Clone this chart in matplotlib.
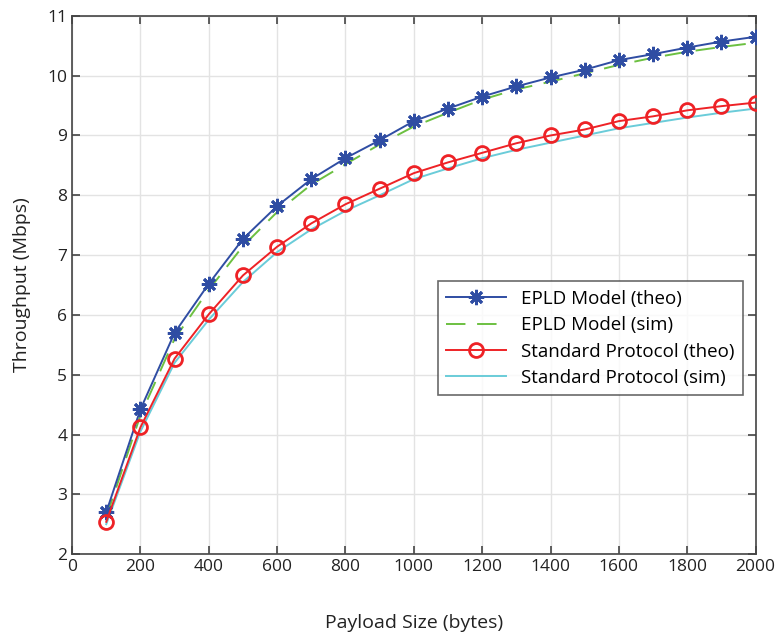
import matplotlib
matplotlib.use("Agg")
import matplotlib.pyplot as plt

payload = [100, 200, 300, 400, 500, 600, 700, 800, 900, 1000,
           1100, 1200, 1300, 1400, 1500, 1600, 1700, 1800, 1900, 2000]
epld_theo = [2.70, 4.42, 5.70, 6.52, 7.27, 7.82, 8.27, 8.62, 8.92, 9.24,
             9.45, 9.65, 9.82, 9.97, 10.10, 10.26, 10.36, 10.47, 10.57, 10.65]
epld_sim = [2.62, 4.32, 5.60, 6.42, 7.15, 7.72, 8.18, 8.52, 8.85, 9.15,
            9.38, 9.60, 9.77, 9.90, 10.04, 10.18, 10.30, 10.40, 10.48, 10.55]
std_theo = [2.54, 4.12, 5.27, 6.01, 6.66, 7.14, 7.53, 7.85, 8.11, 8.37,
            8.55, 8.71, 8.87, 9.00, 9.10, 9.24, 9.32, 9.42, 9.49, 9.55]
std_sim = [2.50, 4.05, 5.20, 5.92, 6.55, 7.05, 7.43, 7.74, 8.00, 8.27,
           8.45, 8.62, 8.76, 8.88, 9.00, 9.12, 9.21, 9.30, 9.38, 9.45]

plt.rcParams['font.family'] = ['Open Sans', 'DejaVu Sans']

fig = plt.figure(figsize=(7.75, 6.34), dpi=100)
ax = fig.add_axes([0.093, 0.126, 0.882, 0.849])

ax.plot(payload, epld_theo, color='#2F4DA3', lw=1.4, marker=(8, 2, 0),
        ms=11, mew=2.0, label='EPLD Model (theo)', zorder=3)
ax.plot(payload, epld_sim, color='#6CC041', lw=1.4, dashes=(10, 6),
        label='EPLD Model (sim)', zorder=2)
ax.plot(payload, std_theo, color='#EE2226', lw=1.4, marker='o', ms=10,
        mfc='none', mew=2.0, label='Standard Protocol (theo)', zorder=3)
ax.plot(payload, std_sim, color='#6ACCD9', lw=1.4,
        label='Standard Protocol (sim)', zorder=2)

ax.set_xlim(0, 2000)
ax.set_ylim(2, 11)
ax.set_xticks(range(0, 2001, 200))
ax.set_yticks(range(2, 12))
ax.grid(True, color='#E3E3E3', lw=1)
ax.set_axisbelow(True)
ax.tick_params(direction='in', top=True, right=True, length=6, width=1.2,
               colors='#444444', labelsize=12.5, labelcolor='#222222')
for s in ax.spines.values():
    s.set_color('#444444')
    s.set_linewidth(1.2)

ax.set_xlabel('Payload Size (bytes)', fontsize=14, labelpad=28, color='#222222')
ax.set_ylabel('Throughput (Mbps)', fontsize=14, labelpad=12, color='#222222')

leg = ax.legend(loc='upper right', bbox_to_anchor=(0.982, 0.507), fontsize=13.5,
                frameon=True, fancybox=False, edgecolor='#444444',
                handlelength=3.2, borderpad=0.45, labelspacing=0.45,
                borderaxespad=0)
leg.get_frame().set_linewidth(1.2)

fig.savefig('out.png', dpi=100)
